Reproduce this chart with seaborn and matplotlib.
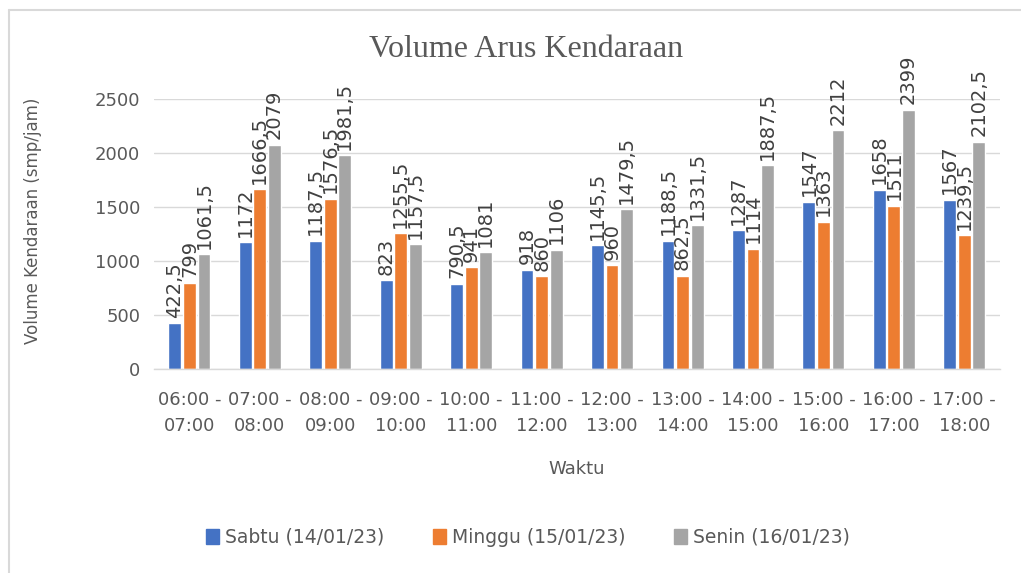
import matplotlib
matplotlib.use("Agg")
import matplotlib.pyplot as plt
import seaborn as sns
import pandas as pd
import numpy as np
from matplotlib.lines import Line2D

categories = ["06:00 -\n07:00", "07:00 -\n08:00", "08:00 -\n09:00", "09:00 -\n10:00",
              "10:00 -\n11:00", "11:00 -\n12:00", "12:00 -\n13:00", "13:00 -\n14:00",
              "14:00 -\n15:00", "15:00 -\n16:00", "16:00 -\n17:00", "17:00 -\n18:00"]
series_names = ["Sabtu (14/01/23)", "Minggu (15/01/23)", "Senin (16/01/23)"]
sabtu = [422.5, 1172, 1187.5, 823, 790.5, 918, 1145.5, 1188.5, 1287, 1547, 1658, 1567]
minggu = [799, 1666.5, 1576.5, 1255.5, 941, 860, 960, 862.5, 1114, 1363, 1511, 1239.5]
senin = [1061.5, 2079, 1981.5, 1157.5, 1081, 1106, 1479.5, 1331.5, 1887.5, 2212, 2399, 2102.5]
colors = ["#4472C4", "#ED7D31", "#A5A5A5"]
yticks = [0, 500, 1000, 1500, 2000, 2500]

rows = []
for name, vals in zip(series_names, [sabtu, minggu, senin]):
    for c, v in zip(categories, vals):
        rows.append({"Waktu": c, "Volume": v, "Hari": name})
df = pd.DataFrame(rows)

sns.set_theme(style="white")
plt.rcParams['font.family'] = ['DejaVu Sans']

fig = plt.figure(figsize=(10.21, 5.73), dpi=100)
ax = fig.add_axes([0.151, 0.356, 0.828, 0.471])

sns.barplot(data=df, x="Waktu", y="Volume", hue="Hari", palette=colors,
            order=categories, hue_order=series_names, width=0.62, gap=0.12,
            ax=ax, legend=False, saturation=1, errorbar=None)

txt = "#595959"
for cont in ax.containers:
    labels = [f"{v:g}".replace(".", ",") for v in cont.datavalues]
    ax.bar_label(cont, labels=labels, rotation=90, padding=4, fontsize=14, color="#404040")

ax.set_ylim(0, 2500)
ax.set_yticks(yticks)
ax.set_yticklabels([str(t) for t in yticks], fontsize=13, color=txt)
ax.grid(axis="y", color="#D9D9D9", linewidth=1)
ax.set_axisbelow(True)
for s in ["left", "right", "top"]:
    ax.spines[s].set_visible(False)
ax.spines["bottom"].set_color("#D9D9D9")
ax.spines["bottom"].set_linewidth(1)
ax.tick_params(axis="y", length=0, pad=10)
ax.set_xlim(-0.5, len(categories) - 0.5)
ax.set_xticks(np.arange(len(categories)))
ax.set_xticklabels(categories, fontsize=13, color=txt, linespacing=1.55)
ax.tick_params(axis="x", length=0, pad=16)
# category boundary tick marks
ax.set_xticks(np.arange(len(categories) + 1) - 0.5, minor=True)
ax.tick_params(axis="x", which="minor", length=8, color="#D9D9D9", width=1, direction="out")

ax.set_xlabel("Waktu", fontsize=13, color=txt, labelpad=18)
ax.set_ylabel("Volume Kendaraan (smp/jam)", fontsize=12, color=txt)
ax.yaxis.set_label_coords(-0.133, 0.55)

fig.text(0.515, 0.913, "Volume Arus Kendaraan", ha="center", va="center",
         fontsize=23, color=txt, family="Liberation Serif")

handles = [plt.Rectangle((0, 0), 1, 1, color=c) for c in colors]
fig.legend(handles, series_names, loc="center", bbox_to_anchor=(0.517, 0.062),
           ncol=3, frameon=False, fontsize=13.5, handlelength=0.7, handleheight=0.9,
           columnspacing=2.6, handletextpad=0.3, labelcolor=txt)

# chart border (top and left visible)
fig.add_artist(Line2D([8.5 / 1021, 1.0], [1 - 9.5 / 573, 1 - 9.5 / 573],
                      transform=fig.transFigure, color="#D9D9D9", linewidth=1.5))
fig.add_artist(Line2D([8.5 / 1021, 8.5 / 1021], [0, 1 - 9.5 / 573],
                      transform=fig.transFigure, color="#D9D9D9", linewidth=1.5))

fig.savefig("out.png", dpi=100)
